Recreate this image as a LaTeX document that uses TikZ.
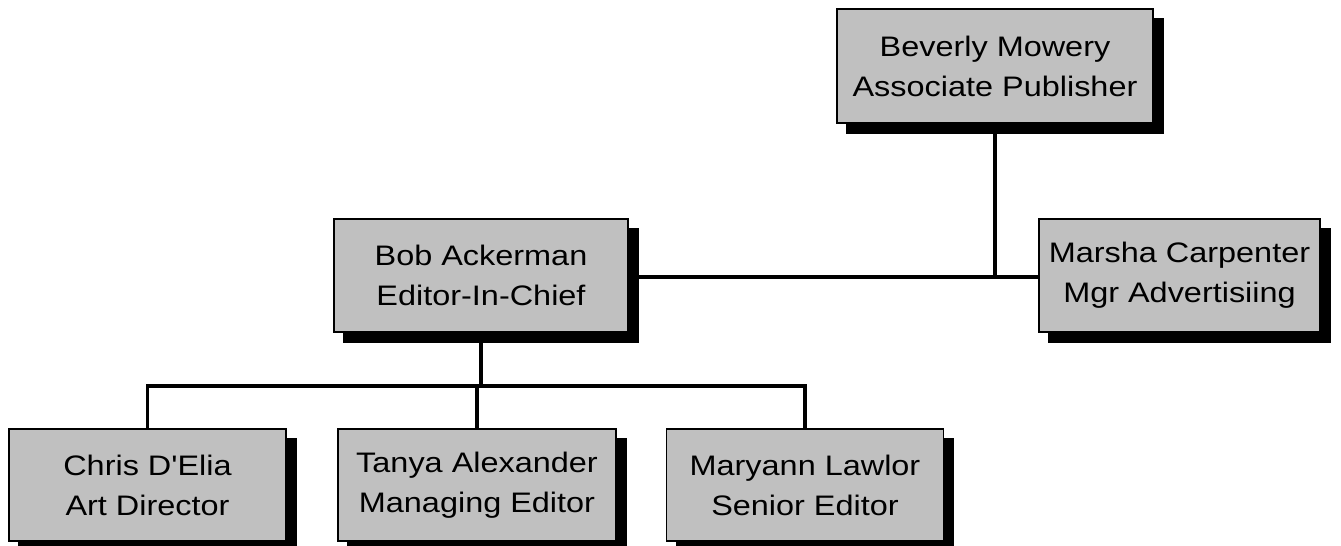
\documentclass[tikz,border=0pt]{standalone}
\usepackage{fontspec}
\newfontfamily\boxfont{Liberation Sans}[FakeStretch=1.15]
\usetikzlibrary{backgrounds}
\definecolor{boxgray}{HTML}{C0C0C0}
\tikzset{
  person/.style={draw=black, line width=1.5pt, fill=boxgray, inner sep=0pt,
    align=center, font=\boxfont\fontsize{28.2}{40}\selectfont, anchor=center},
  link/.style={draw=black, line width=3.3pt},
  shadowbox/.style={fill=black}
}
\begin{document}
\begin{tikzpicture}[x=1pt,y=-1pt]
\useasboundingbox (0,0) rectangle (1341,546);
\node[person, minimum width=316pt, minimum height=114pt] (bev) at (995,66) {Beverly Mowery\\Associate Publisher};
\node[person, minimum width=294pt, minimum height=113pt] (bob) at (481,275.5) {Bob Ackerman\\Editor-In-Chief};
\node[person, minimum width=281pt, minimum height=113pt] (mar) at (1179.5,275.5) {Marsha Carpenter\\Mgr Advertisiing};
\node[person, minimum width=277pt, minimum height=112pt] (chris) at (147.5,485) {Chris D'Elia\\Art Director};
\node[person, minimum width=278pt, minimum height=112pt] (tanya) at (477,485) {Tanya Alexander\\Managing Editor};
\node[person, minimum width=277pt, minimum height=112pt] (mary) at (805,485) {Maryann Lawlor\\Senior Editor};
\coordinate (j1) at (995,277);
\coordinate (j2) at (481,386);
\begin{pgfonlayer}{background}
  \foreach \n in {bev,bob,mar,chris,tanya,mary}{
    \fill[shadowbox] ([shift={(10,10)}]\n.north west) rectangle ([shift={(10,10)}]\n.south east);
  }
  \draw[link] (bev.south) -- (j1);
  \draw[link] (bob.east |- j1) -- (mar.west |- j1);
  \draw[link] (bob.south) -- (j2);
  \draw[link] (chris.north) |- (j2) -| (mary.north);
  \draw[link] (tanya.north) -- (tanya.north |- j2);
\end{pgfonlayer}
\end{tikzpicture}
\end{document}
